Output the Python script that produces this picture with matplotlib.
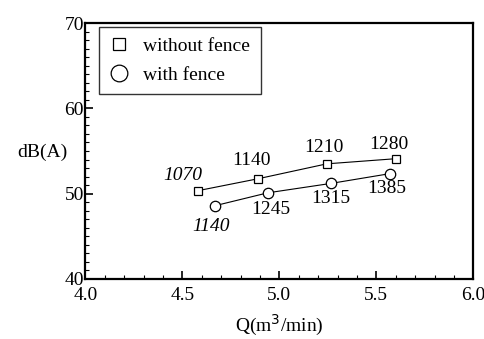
import numpy as np
import matplotlib
matplotlib.use("Agg")
import matplotlib.pyplot as plt
from matplotlib.ticker import MultipleLocator

# ===== DATA =====
q_without = [4.58, 4.89, 5.245, 5.60]
db_without = [50.35, 51.75, 53.5, 54.1]
rpm_without = ["1070", "1140", "1210", "1280"]

q_with = [4.67, 4.94, 5.265, 5.57]
db_with = [48.6, 50.1, 51.2, 52.35]
rpm_with = ["1140", "1245", "1315", "1385"]

plt.rcParams['font.family'] = ['Liberation Serif', 'DejaVu Serif']
FS = 14

fig = plt.figure(figsize=(4.85, 3.39), dpi=100)
ax = fig.add_axes([0.176, 0.177, 0.800, 0.755])

ax.plot(q_without, db_without, color='black', lw=0.8, marker='s', ms=5.5,
        mfc='white', mec='black', mew=0.9, label='without fence')
ax.plot(q_with, db_with, color='black', lw=0.8, marker='o', ms=7.5,
        mfc='white', mec='black', mew=0.9, label='with fence')

# point labels (offsets in points)
off_without = [(-11, 11), (-5, 13), (-2, 12), (-5, 10)]
off_with = [(-3, -15), (2, -12), (0, -11), (-2, -11)]
ital_without = [True, False, False, False]
ital_with = [True, False, False, False]
for x, y, t, o, it in zip(q_without, db_without, rpm_without, off_without, ital_without):
    ax.annotate(t, (x, y), xytext=o, textcoords='offset points', ha='center',
                va='center', fontsize=FS, style='italic' if it else 'normal')
for x, y, t, o, it in zip(q_with, db_with, rpm_with, off_with, ital_with):
    ax.annotate(t, (x, y), xytext=o, textcoords='offset points', ha='center',
                va='center', fontsize=FS, style='italic' if it else 'normal')

ax.set_xlim(4.0, 6.0)
ax.set_ylim(40, 70)
ax.xaxis.set_minor_locator(MultipleLocator(0.1))
ax.yaxis.set_major_locator(MultipleLocator(10))
ax.yaxis.set_minor_locator(MultipleLocator(1))
ax.set_xticks([4.0, 4.5, 5.0, 5.5, 6.0])
ax.set_xticklabels(['4.0', '4.5', '5.0', '5.5', '6.0'])
ax.tick_params(which='both', direction='in', top=False, right=False,
               labelsize=FS)
ax.tick_params(axis='y', pad=1)
ax.tick_params(axis='x', pad=6)
ax.tick_params(which='major', length=6, width=1.2)
ax.tick_params(which='minor', length=3, width=0.8)
for s in ax.spines.values():
    s.set_linewidth(1.6)

ax.set_xlabel('Q(m$^3$/min)', fontsize=FS, labelpad=6)
ax.set_ylabel('dB(A)', fontsize=FS, rotation=0)
ax.yaxis.set_label_coords(-0.11, 0.46)

leg = ax.legend(loc='upper left', bbox_to_anchor=(0.036, 0.985), borderaxespad=0,
                fontsize=FS, frameon=True, fancybox=False, markerscale=1.6,
                handlelength=0.9, handletextpad=0.8, borderpad=0.55, labelspacing=0.55)
leg.get_frame().set_edgecolor('black')
leg.get_frame().set_linewidth(1.0)
for h in leg.get_lines():
    h.set_linestyle('none')

fig.savefig('out.png', dpi=100)
